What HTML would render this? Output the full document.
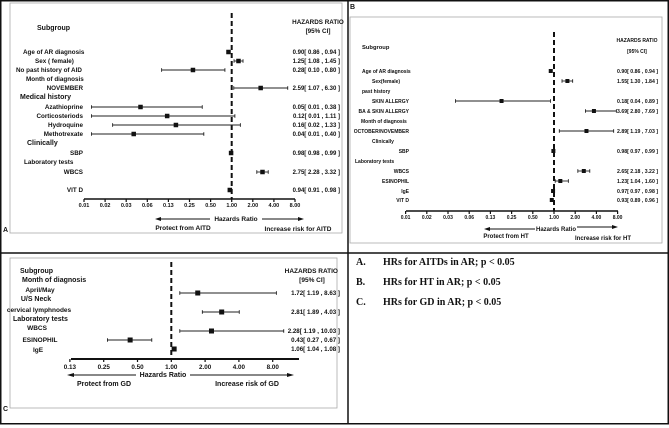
<!DOCTYPE html>
<html><head><meta charset="utf-8">
<style>
html,body{margin:0;padding:0;background:#fff;}
svg{display:block;}
text{font-family:"Liberation Sans Narrow","Liberation Sans",sans-serif;font-weight:bold;fill:#111;}
.lg{font-family:"Liberation Serif",serif;font-size:10px;}
</style></head>
<body>
<svg id="fig" width="669" height="428" viewBox="0 0 669 428" xmlns="http://www.w3.org/2000/svg">
<rect x="0.75" y="0.75" width="667.5" height="423" fill="none" stroke="#111" stroke-width="1.5"/>
<line x1="348" y1="0" x2="348" y2="424" stroke="#111" stroke-width="1.5"/>
<line x1="0" y1="253" x2="669" y2="253" stroke="#111" stroke-width="1.5"/>
<rect x="10" y="3" width="332" height="230" fill="none" stroke="#aaa" stroke-width="0.8"/>
<rect x="350" y="17" width="312" height="226" fill="none" stroke="#aaa" stroke-width="0.8"/>
<rect x="10" y="258" width="327" height="150" fill="none" stroke="#aaa" stroke-width="0.8"/>
<text x="3" y="232" font-size="7">A</text>
<text x="350" y="9" font-size="7">B</text>
<text x="3" y="411" font-size="7">C</text>

<g font-size="6.3">
<text x="37" y="30" font-size="7">Subgroup</text>
<text x="318" y="24" text-anchor="middle">HAZARDS  RATIO</text>
<text x="318" y="33" text-anchor="middle">[95% CI]</text>
<text x="23" y="54">Age of AR diagnosis</text>
<text x="35" y="63">Sex ( female)</text>
<text x="16" y="72">No past history of AID</text>
<text x="26" y="81">Month of diagnosis</text>
<text x="83" y="90" text-anchor="end" font-weight="normal">NOVEMBER</text>
<text x="20" y="99" font-size="7">Medical history</text>
<text x="83" y="109" text-anchor="end" font-weight="normal">Azathioprine</text>
<text x="83" y="118" text-anchor="end" font-weight="normal">Corticosteriods</text>
<text x="83" y="127" text-anchor="end" font-weight="normal">Hydroquine</text>
<text x="83" y="136" text-anchor="end" font-weight="normal">Methotrexate</text>
<text x="27" y="145" font-size="7">Clinically</text>
<text x="83" y="155" text-anchor="end" font-weight="normal">SBP</text>
<text x="24" y="164">Laboratory tests</text>
<text x="83" y="174" text-anchor="end" font-weight="normal">WBCS</text>
<text x="83" y="192" text-anchor="end" font-weight="normal">VIT D</text>
</g>
<g font-size="6.5">
<line x1="157" y1="219" x2="210" y2="219" stroke="#111" stroke-width="1"/><path d="M155 219 L161 217 L161 221 Z" fill="#111"/>
<text x="236" y="221" text-anchor="middle">Hazards Ratio</text>
<line x1="262" y1="219" x2="301" y2="219" stroke="#111" stroke-width="1"/><path d="M304 219 L298 217 L298 221 Z" fill="#111"/>
<text x="183" y="230" text-anchor="middle">Protect from  AITD</text>
<text x="298" y="231" text-anchor="middle">Increase risk for AITD</text>
</g>

<g font-size="5">
<text x="362" y="49" font-size="5.8">Subgroup</text>
<text x="637" y="42" text-anchor="middle">HAZARDS  RATIO</text>
<text x="637" y="53" text-anchor="middle">[95% CI]</text>
<text x="362" y="73">Age of AR diagnosis</text>
<text x="372" y="83">Sex(female)</text>
<text x="362" y="93">past history</text>
<text x="409" y="103" text-anchor="end" font-weight="normal">SKIN ALLERGY</text>
<text x="409" y="113" text-anchor="end" font-weight="normal">BA &amp; SKIN ALLERGY</text>
<text x="361" y="123">Month of diagnosis</text>
<text x="409" y="133" text-anchor="end" font-weight="normal">OCTOBER/NOVEMBER</text>
<text x="372" y="143">Clinically</text>
<text x="409" y="153" text-anchor="end" font-weight="normal">SBP</text>
<text x="355" y="163">Laboratory tests</text>
<text x="409" y="173" text-anchor="end" font-weight="normal">WBCS</text>
<text x="409" y="183" text-anchor="end" font-weight="normal">ESINOPHIL</text>
<text x="409" y="193" text-anchor="end" font-weight="normal">IgE</text>
<text x="409" y="202" text-anchor="end" font-weight="normal">VIT D</text>
</g>
<g font-size="6">
<line x1="487" y1="229" x2="535" y2="229" stroke="#111" stroke-width="1"/><path d="M484 229 L490 227 L490 231 Z" fill="#111"/>
<text x="556" y="231" text-anchor="middle">Hazards Ratio</text>
<line x1="577" y1="227" x2="615" y2="227" stroke="#111" stroke-width="1"/><path d="M618 227 L612 225 L612 229 Z" fill="#111"/>
<text x="506" y="238" text-anchor="middle">Protect from  HT</text>
<text x="603" y="240" text-anchor="middle">Increase risk for  HT</text>
</g>

<g font-size="6.5">
<text x="20" y="273" font-size="7">Subgroup</text>
<text x="338" y="273" text-anchor="end">HAZARDS  RATIO</text>
<text x="312" y="282" text-anchor="middle">[95% CI]</text>
<text x="22" y="282" font-size="7">Month of diagnosis</text>
<text x="40" y="292" text-anchor="middle" font-weight="normal">April/May</text>
<text x="36" y="301" text-anchor="middle" font-size="7">U/S Neck</text>
<text x="39" y="312" text-anchor="middle" font-weight="normal">cervical lymphnodes</text>
<text x="13" y="321" font-size="7">Laboratory tests</text>
<text x="37" y="330" text-anchor="middle" font-weight="normal">WBCS</text>
<text x="40" y="342" text-anchor="middle" font-weight="normal">ESINOPHIL</text>
<text x="38" y="352" text-anchor="middle" font-weight="normal">IgE</text>
</g>
<g font-size="7">
<line x1="70" y1="375" x2="136" y2="375" stroke="#111" stroke-width="1"/><path d="M67 375 L74 373 L74 377 Z" fill="#111"/>
<text x="163" y="377" text-anchor="middle">Hazards Ratio</text>
<line x1="190" y1="375" x2="290" y2="375" stroke="#111" stroke-width="1"/><path d="M294 375 L287 373 L287 377 Z" fill="#111"/>
<text x="104" y="386" text-anchor="middle">Protect from  GD</text>
<text x="247" y="386" text-anchor="middle">Increase risk of GD</text>
</g>

<g class="lg">
<text class="lg" x="356" y="265">A.</text><text class="lg" x="383" y="265">HRs for AITDs in AR; p &lt; 0.05</text>
<text class="lg" x="356" y="285">B.</text><text class="lg" x="383" y="285">HRs for HT in AR; p &lt; 0.05</text>
<text class="lg" x="356" y="305">C.</text><text class="lg" x="383" y="305">HRs for GD in AR; p &lt; 0.05</text>
</g>
<g id="marks"></g>
</svg>
<script>
const aCategories = ["Age of AR diagnosis","Sex (female)","No past history of AID","NOVEMBER","Azathioprine","Corticosteriods","Hydroquine","Methotrexate","SBP","WBCS","VIT D"];
const aHR = [0.90,1.25,0.28,2.59,0.05,0.12,0.16,0.04,0.98,2.75,0.94];
const aLo = [0.86,1.08,0.10,1.07,0.01,0.01,0.02,0.01,0.98,2.28,0.91];
const aHi = [0.94,1.45,0.80,6.30,0.38,1.11,1.33,0.40,0.99,3.32,0.98];
const aTicks = ["0.01","0.02","0.03","0.06","0.13","0.25","0.50","1.00","2.00","4.00","8.00"];
const bCategories = ["Age of AR diagnosis","Sex(female)","SKIN ALLERGY","BA & SKIN ALLERGY","OCTOBER/NOVEMBER","SBP","WBCS","ESINOPHIL","IgE","VIT D"];
const bHR = [0.90,1.55,0.18,3.69,2.89,0.98,2.65,1.23,0.97,0.93];
const bLo = [0.86,1.30,0.04,2.80,1.19,0.97,2.18,1.04,0.97,0.89];
const bHi = [0.94,1.84,0.89,7.69,7.03,0.99,3.22,1.60,0.98,0.96];
const bTicks = ["0.01","0.02","0.03","0.06","0.13","0.25","0.50","1.00","2.00","4.00","8.00"];
const cCategories = ["April/May","cervical lymphnodes","WBCS","ESINOPHIL","IgE"];
const cHR = [1.72,2.81,2.28,0.43,1.06];
const cLo = [1.19,1.89,1.19,0.27,1.04];
const cHi = [8.63,4.03,10.03,0.67,1.08];
const cTicks = ["0.13","0.25","0.50","1.00","2.00","4.00","8.00"];

const NS = "http://www.w3.org/2000/svg";
const root = document.getElementById("marks");
function mk(tag, attrs, parent){
  const e = document.createElementNS(NS, tag);
  for (const k in attrs) e.setAttribute(k, attrs[k]);
  (parent||root).appendChild(e);
  return e;
}
function panel(cfg){
  const g = mk("g", {});
  
  
  const x = v => cfg.x1 + Math.log2(v) * cfg.step;
  const ref = mk("line", {x1:x(1), y1:cfg.refTop, x2:x(1), y2:cfg.axisY, stroke:"#111", "stroke-width":2, "stroke-dasharray":"5,3"}, g);
  
  
  const ax = mk("line", {x1:cfg.axL, y1:cfg.axisY, x2:cfg.axR, y2:cfg.axisY, stroke:"#111", "stroke-width":cfg.axW}, g);
  
  
  const oneIdx = cfg.ticks.indexOf("1.00");
  cfg.ticks.forEach((t, i) => {
    const tx = x(Math.pow(2, i - oneIdx));
    mk("line", {x1:tx, y1:cfg.axisY, x2:tx, y2:cfg.axisY + 3, stroke:"#111", "stroke-width":1.2}, g);
    const tl = mk("text", {x:tx, y:cfg.axisY + cfg.tickDy, "text-anchor":"middle", "font-size":cfg.tickFs}, g);
    tl.textContent = t;
    
    
  });
  cfg.hr.forEach((h, i) => {
    const y = cfg.rows[i];
    const lo = x(cfg.lo[i]), hi = x(cfg.hi[i]);
    const ci = mk("line", {x1:lo, y1:y, x2:hi, y2:y, stroke:"#222", "stroke-width":0.9}, g);
    
    
    mk("line", {x1:lo, y1:y-1.8, x2:lo, y2:y+1.8, stroke:"#222", "stroke-width":0.9}, g);
    mk("line", {x1:hi, y1:y-1.8, x2:hi, y2:y+1.8, stroke:"#222", "stroke-width":0.9}, g);
    const s = cfg.sq;
    const pt = mk("rect", {x:x(h)-s/2, y:y-s/2, width:s, height:s, fill:"#111"}, g);
    
    
    const vt = mk("text", {x:cfg.valX, y:cfg.rows[i] + 2, "text-anchor":"end", "font-size":cfg.valFs}, g);
    vt.textContent = h.toFixed(2) + "[ " + cfg.lo[i].toFixed(2) + " , " + cfg.hi[i].toFixed(2) + " ]";
    
    
  });
}
panel({name:"panel-a", x1:231.7, step:21.1, axisY:199, axL:84, axR:295, axW:1.5, refTop:13, ticks:aTicks, tickDy:8, tickFs:5.5,
  hr:aHR, lo:aLo, hi:aHi, rows:[52,61,70,88,107,116,125,134,153,172,190], sq:4.5, valX:340, valFs:6});
panel({name:"panel-b", x1:554, step:21.2, axisY:211, axL:406, axR:618, axW:1.5, refTop:32, ticks:bTicks, tickDy:8, tickFs:5,
  hr:bHR, lo:bLo, hi:bHi, rows:[71,81,101,111,131,151,171,181,191,200], sq:4, valX:658, valFs:5.2});
panel({name:"panel-c", x1:171.3, step:33.8, axisY:359, axL:71, axR:299, axW:2, refTop:262, ticks:cTicks, tickDy:10, tickFs:6.3,
  hr:cHR, lo:cLo, hi:cHi, rows:[293,312,331,340,349], sq:5, valX:340, valFs:6.2});
</script>
</body></html>
